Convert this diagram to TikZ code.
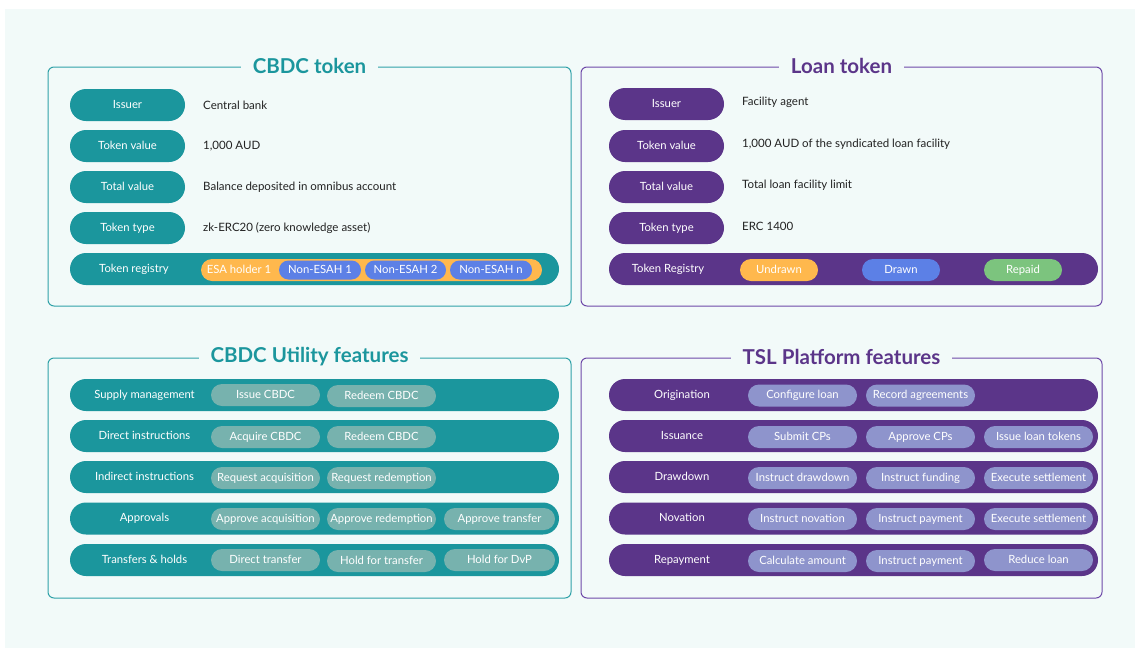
\documentclass[tikz,border=0pt]{standalone}
\usepackage{fontspec}
\setmainfont{Lato}
\definecolor{bgc}{HTML}{F2FAF9}
\definecolor{tealf}{HTML}{1B969D}
\definecolor{teall}{HTML}{30A2A8}
\definecolor{tealsub}{HTML}{77B2AE}
\definecolor{purf}{HTML}{5B3589}
\definecolor{purl}{HTML}{6D48A8}
\definecolor{pursub}{HTML}{8E94CC}
\definecolor{yel}{HTML}{FFB84D}
\definecolor{blu}{HTML}{5C80E6}
\definecolor{grn}{HTML}{7CC47E}
\definecolor{txt}{HTML}{222222}
\tikzset{
  panel/.style={line width=1pt, rounded corners=6pt},
  ttl/.style={fill=bgc, inner xsep=12pt, inner ysep=2pt, font=\fontsize{20.5}{22}\selectfont\bfseries},
  pillbase/.style={text=white, inner sep=0pt, font=\fontsize{11.3}{13}\selectfont},
  lblpill/.style={pillbase, minimum width=115pt, minimum height=32pt, rounded corners=16pt, text height=8pt, text depth=2pt},
  bar/.style={pillbase, minimum width=489pt, minimum height=32pt, rounded corners=16pt},
  sub/.style={pillbase, minimum height=22pt, rounded corners=11pt, text height=8pt, text depth=2pt},
  val/.style={anchor=west, text=txt, inner sep=0pt, font=\fontsize{11.5}{13}\selectfont},
  bartxt/.style={text=white, inner sep=0pt, font=\fontsize{11.3}{13}\selectfont, text height=8pt, text depth=2pt},
}
\begin{document}
\begin{tikzpicture}[x=1pt,y=-1pt]
\useasboundingbox (0,0) rectangle (1135,648);
\fill[white] (0,0) rectangle (1135,648);
\fill[bgc] (5,9) rectangle (1135,648);

% ---------- CBDC token ----------
\draw[panel, draw=teall] (48,67) rectangle (571,306);
\node[ttl, text=tealf] (t1) at (309.5,66) {CBDC token};
\foreach \n/\y/\lab/\v in {a/105/Issuer/Central bank, b/146/Token value/{1,000 AUD}, c/187/Total value/Balance deposited in omnibus account, d/228/Token type/zk-ERC20 (zero knowledge asset)}{
  \node[lblpill, fill=tealf] (cl\n) at (127.5,\y) {\lab};
  \node[val] (cv\n) at (203,\y) {\v};
}
\node[bar, fill=tealf] (creg) at (314.5,269) {};
\node[bartxt] (cregt) at (134,269.5) {Token registry};
\node[sub, fill=yel, minimum width=341pt] (cyel) at (371.5,270) {};
\node[bartxt] (cesa) at (239,270.5) {ESA holder 1};
\node[sub, fill=blu, minimum width=82pt, minimum height=19pt, rounded corners=9.5pt] (cn1) at (320,270) {Non-ESAH 1};
\node[sub, fill=blu, minimum width=81pt, minimum height=19pt, rounded corners=9.5pt] (cn2) at (405.5,270) {Non-ESAH 2};
\node[sub, fill=blu, minimum width=82pt, minimum height=19pt, rounded corners=9.5pt] (cn3) at (491,270) {Non-ESAH n};

% ---------- Loan token ----------
\draw[panel, draw=purl] (581,67) rectangle (1102,306);
\node[ttl, text=purf] (t2) at (841.5,66) {Loan token};
\foreach \n/\y/\lab/\v in {a/104/Issuer/Facility agent, b/146/Token value/{1,000 AUD of the syndicated loan facility}, c/187/Total value/Total loan facility limit, d/228/Token type/ERC 1400}{
  \node[lblpill, fill=purf] (ll\n) at (666.5,\y) {\lab};
  \node[val] (lv\n) at (742,\y-1.5) {\v};
}
\node[bar, fill=purf] (lreg) at (853.5,269) {};
\node[bartxt] (lregt) at (668,269.5) {Token Registry};
\node[sub, fill=yel, minimum width=78pt] (lu) at (779,270) {Undrawn};
\node[sub, fill=blu, minimum width=78pt] (ld) at (901,270) {Drawn};
\node[sub, fill=grn, minimum width=78pt] (lr) at (1023,270) {Repaid};

% ---------- CBDC Utility features ----------
\draw[panel, draw=teall] (48,358) rectangle (571,598);
\node[ttl, text=tealf] (t3) at (309.5,357) {CBDC Utility features};
\foreach \n/\y/\lab in {a/395/Supply management, b/436/Direct instructions, c/477/Indirect instructions, d/518.5/Approvals, e/560/Transfers \& holds}{
  \node[bar, fill=tealf] (cu\n) at (314.5,\y) {};
  \node[bartxt] (cut\n) at (144.5,\y) {\lab};
}
\node[sub, fill=tealsub, minimum width=109pt] (cs11) at (265.5,395) {Issue CBDC};
\node[sub, fill=tealsub, minimum width=109pt] (cs12) at (381.5,396) {Redeem CBDC};
\node[sub, fill=tealsub, minimum width=109pt] (cs21) at (265.5,437) {Acquire CBDC};
\node[sub, fill=tealsub, minimum width=109pt] (cs22) at (381.5,437) {Redeem CBDC};
\node[sub, fill=tealsub, minimum width=109pt] (cs31) at (265.5,478) {Request acquisition};
\node[sub, fill=tealsub, minimum width=109pt] (cs32) at (381.5,478) {Request redemption};
\node[sub, fill=tealsub, minimum width=109pt] (cs41) at (265.5,519) {Approve acquisition};
\node[sub, fill=tealsub, minimum width=109pt] (cs42) at (381.5,519) {Approve redemption};
\node[sub, fill=tealsub, minimum width=111pt] (cs43) at (499.5,519) {Approve transfer};
\node[sub, fill=tealsub, minimum width=109pt] (cs51) at (265.5,560) {Direct transfer};
\node[sub, fill=tealsub, minimum width=109pt] (cs52) at (381.5,561) {Hold for transfer};
\node[sub, fill=tealsub, minimum width=111pt] (cs53) at (499.5,560) {Hold for DvP};

% ---------- TSL Platform features ----------
\draw[panel, draw=purl] (581,358) rectangle (1102,598);
\node[ttl, text=purf] (t4) at (841.5,357) {TSL Platform features};
\foreach \n/\y/\lab in {a/395/Origination, b/436/Issuance, c/477/Drawdown, d/518.5/Novation, e/560/Repayment}{
  \node[bar, fill=purf] (tu\n) at (853.5,\y) {};
  \node[bartxt] (tut\n) at (682,\y) {\lab};
}
\node[sub, fill=pursub, minimum width=109pt] (ts11) at (802.5,395.5) {Configure loan};
\node[sub, fill=pursub, minimum width=109pt] (ts12) at (920.5,395.5) {Record agreements};
\node[sub, fill=pursub, minimum width=109pt] (ts21) at (802.5,437) {Submit CPs};
\node[sub, fill=pursub, minimum width=109pt] (ts22) at (920.5,437) {Approve CPs};
\node[sub, fill=pursub, minimum width=109pt] (ts23) at (1038.5,437) {Issue loan tokens};
\node[sub, fill=pursub, minimum width=109pt] (ts31) at (802.5,478) {Instruct drawdown};
\node[sub, fill=pursub, minimum width=109pt] (ts32) at (920.5,478) {Instruct funding};
\node[sub, fill=pursub, minimum width=109pt] (ts33) at (1038.5,478) {Execute settlement};
\node[sub, fill=pursub, minimum width=109pt] (ts41) at (802.5,519) {Instruct novation};
\node[sub, fill=pursub, minimum width=109pt] (ts42) at (920.5,519) {Instruct payment};
\node[sub, fill=pursub, minimum width=109pt] (ts43) at (1038.5,519) {Execute settlement};
\node[sub, fill=pursub, minimum width=109pt] (ts51) at (802.5,561) {Calculate amount};
\node[sub, fill=pursub, minimum width=109pt] (ts52) at (920.5,561) {Instruct payment};
\node[sub, fill=pursub, minimum width=109pt] (ts53) at (1038.5,560) {Reduce loan};
\end{tikzpicture}
\end{document}
